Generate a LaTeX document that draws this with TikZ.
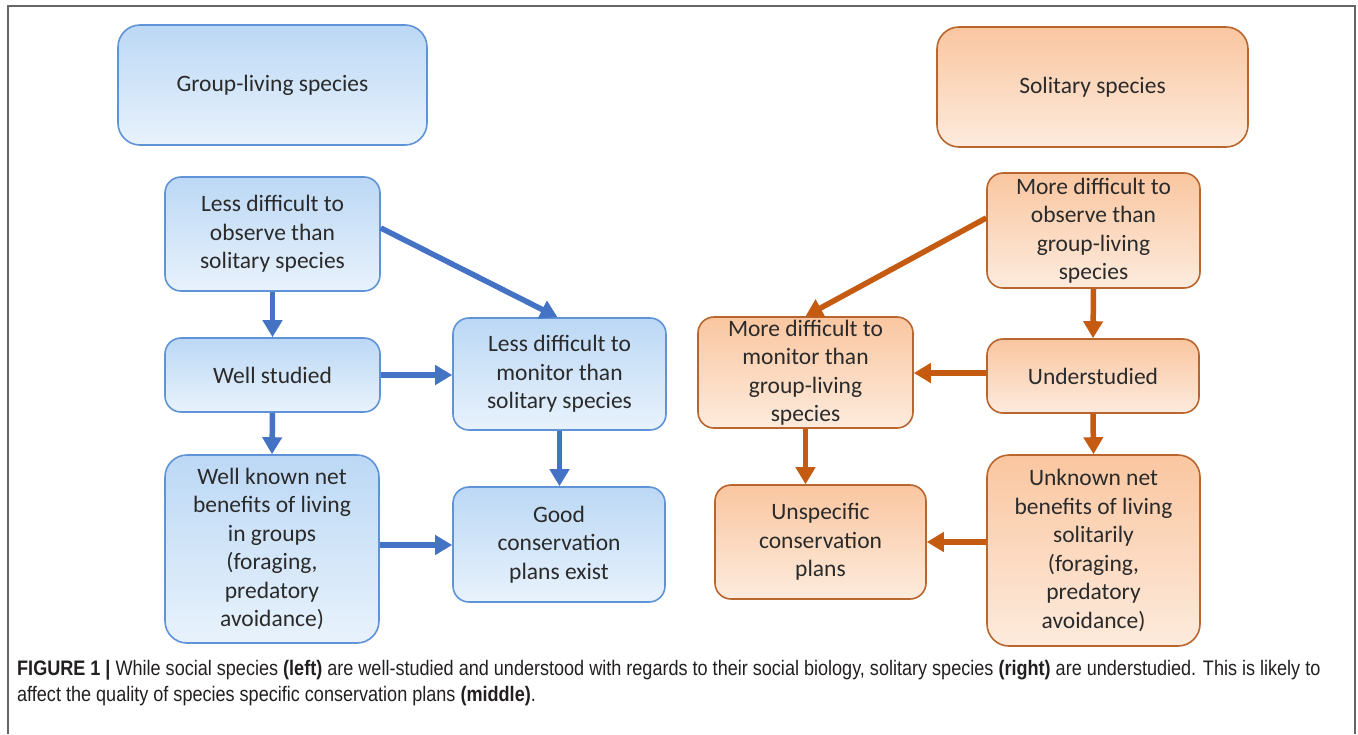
\documentclass[tikz,border=0pt]{standalone}
\usepackage{fontspec}
\usetikzlibrary{arrows.meta,calc}
\newfontfamily\boxfont{Carlito}
\newfontfamily\capfont{Liberation Sans}[FakeStretch=0.86]
\definecolor{bluetop}{HTML}{BCD8F5}
\definecolor{bluebot}{HTML}{E8F2FC}
\definecolor{blueedge}{HTML}{5F93D8}
\definecolor{bluearrow}{HTML}{4472C4}
\definecolor{orgtop}{HTML}{FAC6A0}
\definecolor{orgbot}{HTML}{FDEBDD}
\definecolor{orgedge}{HTML}{B8652E}
\definecolor{orgarrow}{HTML}{C55A11}
\definecolor{txt}{HTML}{2A2A2A}
\definecolor{captxt}{HTML}{231F20}
\tikzset{
  box/.style={rectangle, rounded corners=16pt, line width=1.6pt, align=center,
    inner sep=0pt, text=txt,
    font=\boxfont\fontsize{23.5}{28.5}\selectfont},
  bbox/.style={box, draw=blueedge, top color=bluetop, bottom color=bluebot},
  obox/.style={box, draw=orgedge, top color=orgtop, bottom color=orgbot},
  bigbox/.style={rounded corners=22pt},
  barrow/.style={draw=bluearrow, line width=5.5pt,
    -{Triangle[width=19pt,length=17pt]}, fill=bluearrow},
  oarrow/.style={draw=orgarrow, line width=5.5pt,
    -{Triangle[width=19pt,length=17pt]}, fill=orgarrow},
  captext/.style={anchor=base west, inner sep=0pt, text=captxt,
    font=\capfont\fontsize{21}{26}\selectfont}
}
\begin{document}
\begin{tikzpicture}[x=1pt,y=-1pt]
\useasboundingbox (0,0) rectangle (1358,734);
\fill[white] (0,0) rectangle (1358,734);
% frame
\draw[line width=1.5pt, draw=black!60] (8,734) -- (8,6) -- (1355,6) -- (1355,734);

% left (blue)
\node[bbox, bigbox, minimum width=309pt, minimum height=120pt] (L0) at (272.5,85) {Group-living species};
\node[bbox, minimum width=215pt, minimum height=114pt] (L1) at (272.5,234) {Less difficult to\\observe than\\solitary species};
\node[bbox, minimum width=215pt, minimum height=74pt] (L2) at (272.5,375) {Well studied};
\node[bbox, minimum width=213pt, minimum height=112pt] (L3) at (559.5,374) {Less difficult to\\monitor than\\solitary species};
\node[bbox, bigbox, minimum width=214pt, minimum height=188pt] (L4) at (272,549) {Well known net\\benefits of living\\in groups\\(foraging,\\predatory\\avoidance)};
\node[bbox, minimum width=212pt, minimum height=115pt] (L5) at (559,544.5) {Good\\conservation\\plans exist};

% right (orange)
\node[obox, bigbox, minimum width=311pt, minimum height=120pt] (R0) at (1092.5,87) {Solitary species};
\node[obox, minimum width=213pt, minimum height=115pt] (R1) at (1093.5,230.5) {More difficult to\\observe than\\group-living\\species};
\node[obox, minimum width=215pt, minimum height=111pt] (R2) at (805.5,372.5) {More difficult to\\monitor than\\group-living\\species};
\node[obox, minimum width=212pt, minimum height=74pt] (R3) at (1093,376) {Understudied};
\node[obox, minimum width=211pt, minimum height=114pt] (R4) at (820.5,542) {Unspecific\\conservation\\plans};
\node[obox, bigbox, minimum width=213pt, minimum height=191pt] (R5) at (1093.5,550.5) {Unknown net\\benefits of living\\solitarily\\(foraging,\\predatory\\avoidance)};

% blue arrows
\draw[barrow] (L1.south) -- (L2.north);
\draw[barrow] ([yshift=6pt]L1.east) -- ([xshift=-2pt]L3.north);
\draw[barrow] (L2.east) -- (L2.east -| L3.west);
\draw[barrow] (L2.south) -- (L4.north);
\draw[barrow] (L3.south) -- (L3.south |- L5.north);
\draw[barrow] ([yshift=4pt]L4.east) -- ([yshift=4pt]L4.east -| L5.west);

% orange arrows
\draw[oarrow] ([yshift=12.5pt]R1.west) -- (R2.north);
\draw[oarrow] (R1.south) -- (R3.north);
\draw[oarrow] ([yshift=3pt]R3.west) -- ([yshift=3pt]R3.west -| R2.east);
\draw[oarrow] (R3.south) -- (R5.north);
\draw[oarrow] (R2.south) -- (R2.south |- R4.north);
\draw[oarrow] ([yshift=8.5pt]R5.west) -- ([yshift=8.5pt]R5.west -| R4.east);

% caption
\node[captext] (cap1) at (17,675) {\textbf{FIGURE 1 |} While social species \textbf{(left)} are well-studied and understood with regards to their social biology, solitary species \textbf{(right)} are understudied. This is likely to};
\node[captext] (cap2) at (17,701) {affect the quality of species specific conservation plans \textbf{(middle)}.};
\end{tikzpicture}
\end{document}
